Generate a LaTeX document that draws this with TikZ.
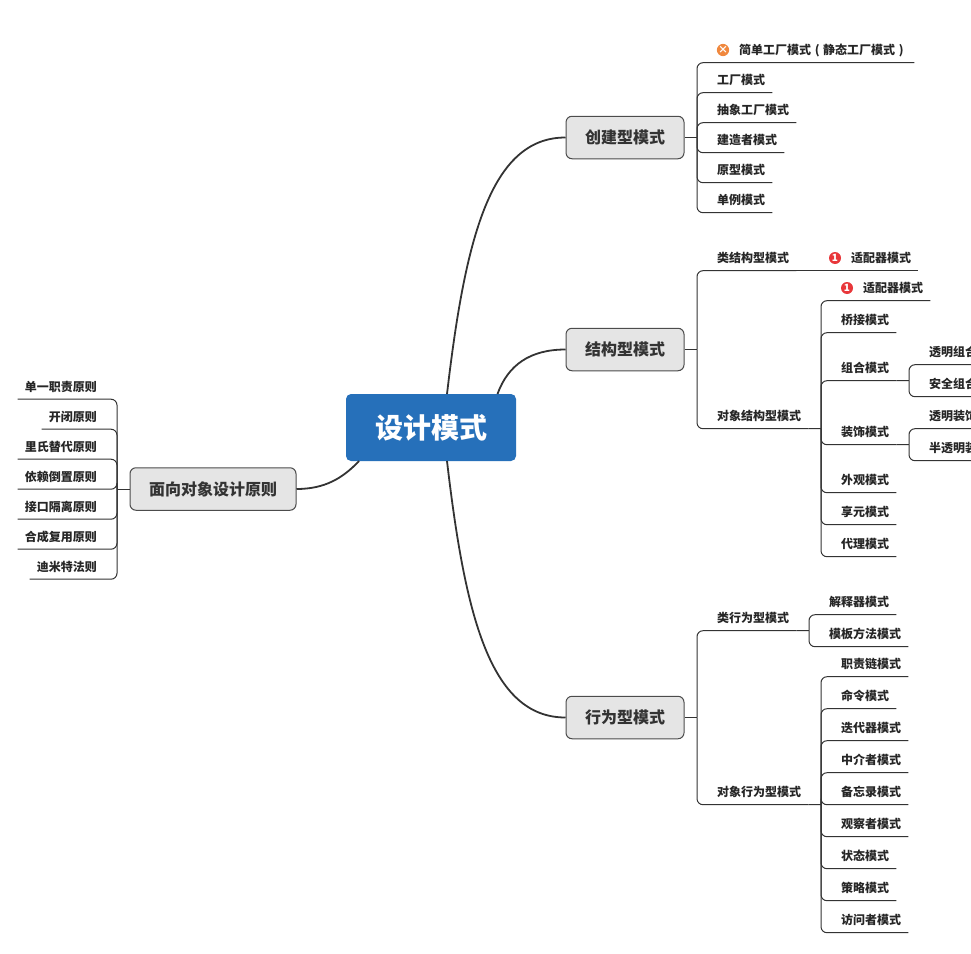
\documentclass[tikz,border=0pt]{standalone}
\usepackage{fontspec}
\setmainfont{Noto Sans CJK SC}
\definecolor{inkc}{HTML}{333333}
\definecolor{rootc}{HTML}{2670BA}
\definecolor{branchc}{HTML}{E5E5E5}
\definecolor{warnc}{HTML}{F0883E}
\definecolor{prioc}{HTML}{E8373A}
\begin{document}
\begin{tikzpicture}[x=1pt, y=-1pt,
  leaf/.style={inner xsep=7pt, inner ysep=0pt, minimum height=25pt, text height=10pt, text depth=2pt, font=\fontsize{12}{12}\selectfont\bfseries, text=black!85},
  leftleaf/.style={leaf, anchor=east, minimum height=24pt},
  branch/.style={draw=black!70, fill=branchc, rounded corners=6pt, line width=1pt, minimum height=42.5pt, font=\fontsize{16}{16}\selectfont\bfseries, text=inkc},
  link/.style={draw=inkc, line width=1pt, rounded corners=6pt},
  curve/.style={draw=inkc, line width=1.8pt},
  badge/.style={circle, inner sep=0pt, minimum size=12pt, text=white, font=\fontsize{10}{10}\selectfont\bfseries}]
  \useasboundingbox (0,0) rectangle (971,953);
  \clip (0,0) rectangle (971,953);
  % Root and main branches
  \node[fill=rootc, rounded corners=5pt, minimum width=170pt, minimum height=67pt, text=white, font=\fontsize{28}{28}\selectfont\bfseries] (root) at (431,427.5) {设计模式};
  \node[branch, minimum width=118pt] (B1) at (625,137.5) {创建型模式};
  \node[branch, minimum width=118pt] (B2) at (625,349.5) {结构型模式};
  \node[branch, minimum width=118pt] (B3) at (625,717.5) {行为型模式};
  \node[branch, minimum width=166pt] (B4) at (213,489) {面向对象设计原则};
  % Where the curves leave the root
  \coordinate (R1) at (447,394);
  \coordinate (R2) at (497.5,394);
  \coordinate (R3) at (447,461);
  \coordinate (R4) at (359,461);
  \draw[curve] (R1) .. controls (465,240) and (490,137.5) .. (B1.west);
  \draw[curve] (R2) .. controls (508,365) and (530,349.5) .. (B2.west);
  \draw[curve] (R3) .. controls (465,615) and (490,717.5) .. (B3.west);
  \draw[curve] (R4) .. controls (343,478) and (325,489) .. (B4.east);
  % Spines
  \coordinate (H1) at (697,137.5);
  \coordinate (H2) at (697,349.5);
  \coordinate (H3) at (697,717.5);
  \coordinate (H4) at (117,489);
  \draw[link] (B1.east) -- (H1);
  \draw[link] (B2.east) -- (H2);
  \draw[link] (B3.east) -- (H3);
  \draw[link] (B4.west) -- (H4);
  % Creational
  \node[badge, fill=warnc] (X1) at (723,50) {×};
  \node[leaf, anchor=west] (L11) at (732,50) {简单工厂模式\makebox[12pt]{(}静态工厂模式\makebox[12pt]{)}};
  \node[leaf, anchor=west] (L12) at (710,80) {工厂模式};
  \node[leaf, anchor=west] (L13) at (710,110) {抽象工厂模式};
  \node[leaf, anchor=west] (L14) at (710,140) {建造者模式};
  \node[leaf, anchor=west] (L15) at (710,170) {原型模式};
  \node[leaf, anchor=west] (L16) at (710,200) {单例模式};
  \draw[link] (H1) |- (L11.south east);
  \draw[link] (H1) |- (L12.south east);
  \draw[link] (H1) |- (L13.south east);
  \draw[link] (H1) |- (L14.south east);
  \draw[link] (H1) |- (L15.south east);
  \draw[link] (H1) |- (L16.south east);
  % Structural
  \node[leaf, anchor=west] (S1) at (710,258) {类结构型模式};
  \node[badge, fill=prioc] (P1) at (835,258) {1};
  \node[leaf, anchor=west] (S11) at (844,258) {适配器模式};
  \node[leaf, anchor=west] (S2) at (710,416) {对象结构型模式};
  \draw[link] (H2) |- (S1.south east);
  \draw[link] (H2) |- (S2.south east);
  \draw[link] (S1.south east) -- (S11.south east);
  \coordinate (H22) at (821,428.5);
  \draw[link] (S2.south east) -- (H22);
  \node[badge, fill=prioc] (P2) at (847,288) {1};
  \node[leaf, anchor=west] (S21) at (856,288) {适配器模式};
  \node[leaf, anchor=west] (S22) at (834,320) {桥接模式};
  \node[leaf, anchor=west] (S23) at (834,368) {组合模式};
  \node[leaf, anchor=west] (S24) at (834,432) {装饰模式};
  \node[leaf, anchor=west] (S25) at (834,480) {外观模式};
  \node[leaf, anchor=west] (S26) at (834,512) {享元模式};
  \node[leaf, anchor=west] (S27) at (834,544) {代理模式};
  \draw[link] (H22) |- (S21.south east);
  \draw[link] (H22) |- (S22.south east);
  \draw[link] (H22) |- (S23.south east);
  \draw[link] (H22) |- (S24.south east);
  \draw[link] (H22) |- (S25.south east);
  \draw[link] (H22) |- (S26.south east);
  \draw[link] (H22) |- (S27.south east);
  % Composite and decorator children
  \coordinate (H23) at (909,380.5);
  \coordinate (H24) at (909,444.5);
  \draw[link] (S23.south east) -- (H23);
  \draw[link] (S24.south east) -- (H24);
  \node[leaf, anchor=west] (S31) at (922,352) {透明组合模式};
  \node[leaf, anchor=west] (S32) at (922,384) {安全组合模式};
  \node[leaf, anchor=west] (S41) at (922,416) {透明装饰模式};
  \node[leaf, anchor=west] (S42) at (922,448) {半透明装饰模式};
  \draw[link] (H23) |- (S31.south east);
  \draw[link] (H23) |- (S32.south east);
  \draw[link] (H24) |- (S41.south east);
  \draw[link] (H24) |- (S42.south east);
  % Behavioural
  \node[leaf, anchor=west] (V1) at (710,618) {类行为型模式};
  \node[leaf, anchor=west] (V2) at (710,792) {对象行为型模式};
  \draw[link] (H3) |- (V1.south east);
  \draw[link] (H3) |- (V2.south east);
  \coordinate (H31) at (809,630.5);
  \coordinate (H32) at (821,804.5);
  \draw[link] (V1.south east) -- (H31);
  \draw[link] (V2.south east) -- (H32);
  \node[leaf, anchor=west] (V11) at (822,602) {解释器模式};
  \node[leaf, anchor=west] (V12) at (822,634) {模板方法模式};
  \draw[link] (H31) |- (V11.south east);
  \draw[link] (H31) |- (V12.south east);
  \node[leaf, anchor=west] (V21) at (834,664) {职责链模式};
  \node[leaf, anchor=west] (V22) at (834,696) {命令模式};
  \node[leaf, anchor=west] (V23) at (834,728) {迭代器模式};
  \node[leaf, anchor=west] (V24) at (834,760) {中介者模式};
  \node[leaf, anchor=west] (V25) at (834,792) {备忘录模式};
  \node[leaf, anchor=west] (V26) at (834,824) {观察者模式};
  \node[leaf, anchor=west] (V27) at (834,856) {状态模式};
  \node[leaf, anchor=west] (V28) at (834,888) {策略模式};
  \node[leaf, anchor=west] (V29) at (834,920) {访问者模式};
  \draw[link] (H32) |- (V21.south east);
  \draw[link] (H32) |- (V22.south east);
  \draw[link] (H32) |- (V23.south east);
  \draw[link] (H32) |- (V24.south east);
  \draw[link] (H32) |- (V25.south east);
  \draw[link] (H32) |- (V26.south east);
  \draw[link] (H32) |- (V27.south east);
  \draw[link] (H32) |- (V28.south east);
  \draw[link] (H32) |- (V29.south east);
  % Object oriented principles
  \node[leftleaf] (O1) at (104,387) {单一职责原则};
  \node[leftleaf] (O2) at (104,417) {开闭原则};
  \node[leftleaf] (O3) at (104,447) {里氏替代原则};
  \node[leftleaf] (O4) at (104,477) {依赖倒置原则};
  \node[leftleaf] (O5) at (104,507) {接口隔离原则};
  \node[leftleaf] (O6) at (104,537) {合成复用原则};
  \node[leftleaf] (O7) at (104,567) {迪米特法则};
  \draw[link] (H4) |- (O1.south west);
  \draw[link] (H4) |- (O2.south west);
  \draw[link] (H4) |- (O3.south west);
  \draw[link] (H4) |- (O4.south west);
  \draw[link] (H4) |- (O5.south west);
  \draw[link] (H4) |- (O6.south west);
  \draw[link] (H4) |- (O7.south west);
\end{tikzpicture}
\end{document}
